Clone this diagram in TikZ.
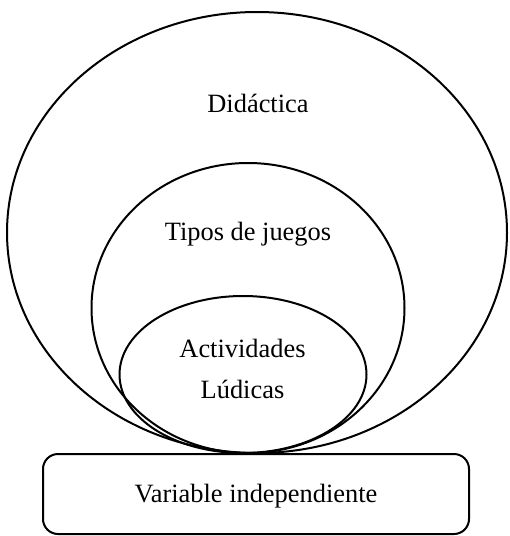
\documentclass[tikz,border=0pt]{standalone}
\usepackage{fontspec}
\setmainfont{Liberation Serif}
\usetikzlibrary{shapes.geometric}
\begin{document}
\begin{tikzpicture}[x=1pt,y=-1pt,
  ring/.style={draw=black,line width=2pt,ellipse,inner sep=0pt,minimum width=#1},
  lbl/.style={anchor=base,inner sep=0pt,font=\fontsize{26.4}{30}\selectfont},
  varbox/.style={draw=black,line width=2pt,rounded corners=15pt,inner sep=0pt}]
\useasboundingbox (0,0) rectangle (510,536);
\node[ring=500pt,minimum height=441pt] (big) at (257,232.5) {};
\node[ring=313pt,minimum height=290pt] (mid) at (248,308) {};
\node[ring=247pt,minimum height=157pt] (small) at (243,374.5) {};
\node[varbox,minimum width=426pt,minimum height=80pt] (box) at (256,494) {};
\node[lbl] (t1) at (258,112) {Didáctica};
\node[lbl] (t2) at (248,240) {Tipos de juegos};
\node[lbl] (t3) at (242.5,357) {Actividades};
\node[lbl] (t4) at (242.5,398) {Lúdicas};
\node[lbl] (t5) at (256,502) {Variable independiente};
\end{tikzpicture}
\end{document}
